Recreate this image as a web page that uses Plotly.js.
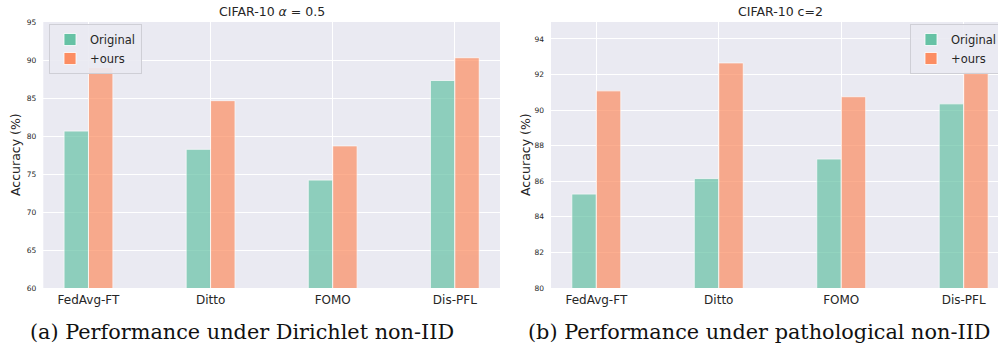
<!DOCTYPE html>
<html>
<head>
<meta charset="utf-8">
<script src="https://cdn.plot.ly/plotly-3.0.1.min.js"></script>
<style>
html, body { margin:0; padding:0; width:998px; height:348px; overflow:hidden; background:#fff; }
#chart { width:1012px; height:348px; }
</style>
</head>
<body>
<div id="chart"></div>
<script>
// Data
const methods = ['FedAvg-FT', 'Ditto', 'FOMO', 'Dis-PFL'];
const dirOriginal = [80.65, 78.25, 74.2, 87.3];
const dirOurs = [89.0, 84.65, 78.7, 90.3];
const patOriginal = [85.28, 86.15, 87.25, 90.35];
const patOurs = [91.08, 92.65, 90.75, 92.15];
const leftTitle = 'CIFAR-10 <i>α</i> = 0.5';
const rightTitle = 'CIFAR-10 c=2';
const leftCaption = '(a) Performance under Dirichlet non-IID';
const rightCaption = '(b) Performance under pathological non-IID';
const yLabel = 'Accuracy (%)';

const W = 1012, H = 348;
const teal = '#66c2a5', orange = '#fc8d62';
const txt = '#262626';
const sans = 'DejaVu Sans, sans-serif';

function bar(x, y, name, color, xa, ya, lg) {
  return {
    type: 'bar', x: x, y: y, name: name, xaxis: xa, yaxis: ya, legend: lg,
    marker: { color: color, opacity: 0.7, line: { color: '#ffffff', width: 0.8 } },
    hoverinfo: 'skip'
  };
}

const traces = [
  bar(methods, dirOriginal, 'Original', teal, 'x', 'y', 'legend'),
  bar(methods, dirOurs, '+ours', orange, 'x', 'y', 'legend'),
  bar(methods, patOriginal, 'Original', teal, 'x2', 'y2', 'legend2'),
  bar(methods, patOurs, '+ours', orange, 'x2', 'y2', 'legend2')
];

const ydom = [1 - 288/H, 1 - 22/H];
function xax(dom, rng) {
  return {
    domain: dom, range: rng, type: 'category',
    showgrid: true, gridcolor: '#ffffff', gridwidth: 1,
    zeroline: false, showline: false, ticks: '',
    tickfont: { family: sans, size: 12, color: txt },
    ticklabelstandoff: 3, fixedrange: true
  };
}
function yax(rng, dt, anchor) {
  return {
    domain: ydom, range: rng, dtick: dt, tick0: 0, anchor: anchor,
    showgrid: true, gridcolor: '#ffffff', gridwidth: 1,
    zeroline: false, showline: false, ticks: '',
    tickfont: { family: sans, size: 7.5, color: txt },
    ticklabelstandoff: 6, fixedrange: true
  };
}

const legendBase = {
  bgcolor: 'rgba(234,234,242,0.9)', bordercolor: '#cfcfd6', borderwidth: 1,
  font: { family: sans, size: 11.5, color: txt },
  xanchor: 'left', yanchor: 'top', tracegroupgap: 0, itemwidth: 30
};

const layout = {
  width: W, height: H,
  margin: { l: 0, r: 0, t: 0, b: 0 },
  paper_bgcolor: '#ffffff', plot_bgcolor: '#eaeaf2',
  barmode: 'group', bargap: 0.6, bargroupgap: 0,
  showlegend: true,
  xaxis: xax([43.3/W, 500/W], [-0.37, 3.37]),
  yaxis: yax([60, 95], 5, 'x'),
  xaxis2: xax([551/W, 1009/W], [-0.37, 3.37]),
  yaxis2: yax([80, 94.95], 2, 'x2'),
  legend: Object.assign({}, legendBase, { x: 49/W, y: 1 - 24/H }),
  legend2: Object.assign({}, legendBase, { x: 910/W, y: 1 - 24/H }),
  annotations: [
    { text: leftTitle, x: 271.6/W, y: 1 - 12/H, xref: 'paper', yref: 'paper', showarrow: false,
      xanchor: 'center', yanchor: 'middle', font: { family: sans, size: 12.5, color: txt } },
    { text: rightTitle, x: 780/W, y: 1 - 12/H, xref: 'paper', yref: 'paper', showarrow: false,
      xanchor: 'center', yanchor: 'middle', font: { family: sans, size: 12.5, color: txt } },
    { text: yLabel, x: 15/W, y: 1 - 155/H, xref: 'paper', yref: 'paper', showarrow: false, textangle: -90,
      xanchor: 'center', yanchor: 'middle', font: { family: sans, size: 12.5, color: txt } },
    { text: yLabel, x: 525/W, y: 1 - 155/H, xref: 'paper', yref: 'paper', showarrow: false, textangle: -90,
      xanchor: 'center', yanchor: 'middle', font: { family: sans, size: 12.5, color: txt } },
    { text: leftCaption, x: 28/W, y: 1 - 332/H, xref: 'paper', yref: 'paper', showarrow: false,
      xanchor: 'left', yanchor: 'middle', font: { family: 'DejaVu Serif, serif', size: 20.8, color: '#111' } },
    { text: rightCaption, x: 526/W, y: 1 - 332/H, xref: 'paper', yref: 'paper', showarrow: false,
      xanchor: 'left', yanchor: 'middle', font: { family: 'DejaVu Serif, serif', size: 20.8, color: '#111' } }
  ]
};

Plotly.newPlot('chart', traces, layout, { staticPlot: true, displayModeBar: false });
</script>
</body>
</html>
